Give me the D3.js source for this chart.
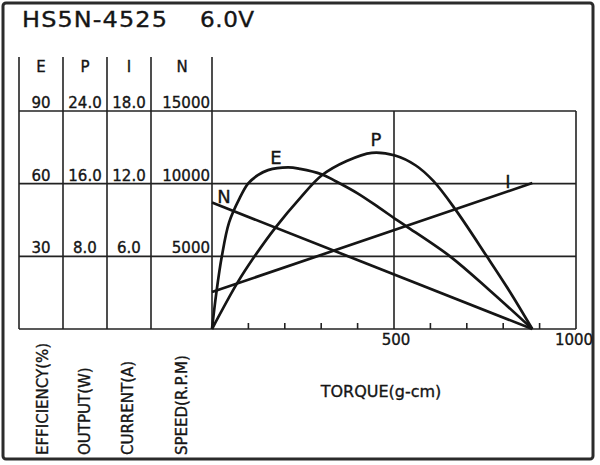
<!DOCTYPE html>
<html>
<head>
<meta charset="utf-8">
<script src="https://cdnjs.cloudflare.com/ajax/libs/d3/7.8.5/d3.min.js"></script>
<style>
  body { margin: 0; background: #fff; }
  svg text { font-family: "DejaVu Sans", "Liberation Sans", sans-serif; fill: #151515; stroke: #151515; stroke-width: 0.35; }
</style>
</head>
<body>
<div id="chart"></div>
<script>
// motor data
var title = "HS5N-4525";
var voltage = "6.0V";
var columnNames = ["E", "P", "I", "N"];
var efficiencyTicks = ["30", "60", "90"];
var outputTicks = ["8.0", "16.0", "24.0"];
var currentTicks = ["6.0", "12.0", "18.0"];
var speedTicks = ["5000", "10000", "15000"];
var axisNames = ["EFFICIENCY(%)", "OUTPUT(W)", "CURRENT(A)", "SPEED(R.P.M)"];
var torqueTicks = [100, 200, 300, 400, 500, 600, 700, 800, 900];
var torqueLabels = [500, 1000];
var torqueName = "TORQUE(g-cm)";

// [torque g-cm, value]
var efficiency = [[0,0],[12,15],[27,30],[47,44],[76,54],[99,60],[126,63.5],[154,65.6],[209,66.7],[242,66.1],[301,63.9],[340,61.0],[400,56.0],[460,50.0],[503,45.5],[535,42.3],[654,30],[764,15.8],[880,0]];
var output = [[0,0],[70,5.1],[117,8.0],[177,11.3],[242,14.4],[301,16.9],[370,18.5],[439,19.4],[503,19.1],[560,18.0],[608,16.3],[668,13.2],[755,8.0],[820,4.0],[880,0]];
var current = [[0,3.05],[880,12.05]];
var speed = [[0,8700],[880,0]];

var width = 600, height = 465;
var top0 = 111, bottom0 = 329, left0 = 212, right0 = 576;
var colEdges = [19, 63, 107, 151, 212];

var svg = d3.select("#chart").append("svg").attr("width", width).attr("height", height);

var x = d3.scaleLinear().domain([0, 1000]).range([left0, right0]);
var yE = d3.scaleLinear().domain([0, 90]).range([bottom0, top0]);
var yP = d3.scaleLinear().domain([0, 24]).range([bottom0, top0]);
var yI = d3.scaleLinear().domain([0, 18]).range([bottom0, top0]);
var yN = d3.scaleLinear().domain([0, 15000]).range([bottom0, top0]);

// outer frame
svg.append("rect").attr("x", 3).attr("y", 3).attr("width", 590).attr("height", 456)
  .attr("rx", 3).attr("fill", "none").attr("stroke", "#2b2b2b").attr("stroke-width", 3);

// title, a little wider than the font
svg.append("text").attr("transform", "translate(22,27) scale(1.14,1)")
  .attr("font-size", 21).attr("letter-spacing", 1).text(title);
svg.append("text").attr("transform", "translate(200,27) scale(1.1,1)")
  .attr("font-size", 21).attr("letter-spacing", 0.5).text(voltage);

var grid = svg.append("g").attr("stroke", "#222").attr("stroke-width", 1.6);

// column separators
colEdges.forEach(function(cx){
  grid.append("line").attr("x1", cx).attr("x2", cx).attr("y1", 57).attr("y2", bottom0);
});
// horizontal grid
[0, 30, 60, 90].forEach(function(v){
  grid.append("line").attr("x1", colEdges[0]).attr("x2", x(1000))
    .attr("y1", yE(v)).attr("y2", yE(v));
});
grid.append("line").attr("x1", x(1000)).attr("x2", x(1000)).attr("y1", top0).attr("y2", bottom0);

// torque ticks
torqueTicks.forEach(function(t){
  var len = t == 500 ? bottom0 - top0 : 6;
  grid.append("line").attr("x1", x(t)).attr("x2", x(t)).attr("y1", bottom0).attr("y2", bottom0 - len);
});
torqueLabels.forEach(function(t){
  svg.append("text").attr("x", x(t) + (t == 1000 ? -2 : 2)).attr("y", 345)
    .attr("font-size", 15).attr("text-anchor", "middle").text(t);
});
svg.append("text").attr("x", 381).attr("y", 397).attr("font-size", 16)
  .attr("text-anchor", "middle").text(torqueName);

// column headers and scale values
var colMid = [41, 85, 129, 182];
columnNames.forEach(function(n, i){
  svg.append("text").attr("x", colMid[i]).attr("y", 72).attr("font-size", 15)
    .attr("text-anchor", "middle").text(n);
});
var tickSets = [efficiencyTicks, outputTicks, currentTicks, speedTicks];
var rowVals = [30, 60, 90];
tickSets.forEach(function(set, i){
  set.forEach(function(lbl, j){
    svg.append("text")
      .attr("x", i == 3 ? 210 : colMid[i])
      .attr("y", yE(rowVals[j]) - 3)
      .attr("font-size", 15)
      .attr("text-anchor", i == 3 ? "end" : "middle")
      .text(lbl);
  });
});

// rotated axis names
var nameX = [43, 85, 128, 182];
axisNames.forEach(function(n, i){
  svg.append("text")
    .attr("transform", "translate(" + nameX[i] + ",455) rotate(-90)")
    .attr("font-size", 15).attr("dominant-baseline", "central").text(n);
});

// curves
function drawCurve(data, yScale){
  var line = d3.line()
    .x(function(d){ return x(d[0]); })
    .y(function(d){ return yScale(d[1]); })
    .curve(d3.curveCatmullRom.alpha(0.5));
  svg.append("path").datum(data).attr("d", line)
    .attr("fill", "none").attr("stroke", "#151515").attr("stroke-width", 2.7)
    .attr("stroke-linejoin", "round");
}
drawCurve(efficiency, yE);
drawCurve(output, yP);
drawCurve(current, yI);
drawCurve(speed, yN);

// curve labels
var curveLabels = [["N", 224, 203], ["E", 276, 164], ["P", 376, 146], ["I", 508, 188]];
curveLabels.forEach(function(c){
  svg.append("text").attr("x", c[1]).attr("y", c[2]).attr("font-size", 18)
    .attr("text-anchor", "middle").text(c[0]);
});
</script>
</body>
</html>
